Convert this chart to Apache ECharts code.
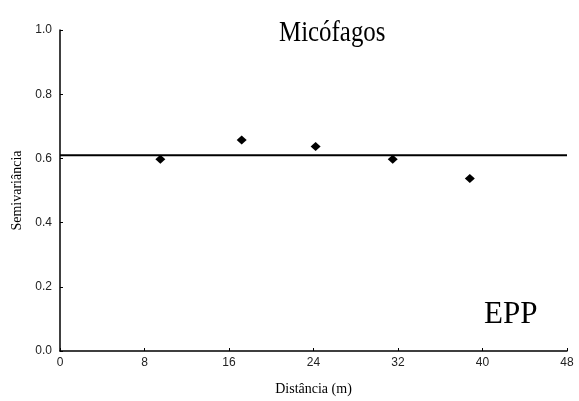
<!DOCTYPE html>
<html><head><meta charset="utf-8">
<script src="https://cdn.jsdelivr.net/npm/echarts@6/dist/echarts.min.js"></script>
<style>html,body{margin:0;padding:0;background:#fff}#c{width:579px;height:401px}</style>
</head><body><div id="c"></div>
<script>
var distances = [9.5, 17.2, 24.2, 31.5, 38.8];
var semivariances = [0.597, 0.657, 0.637, 0.597, 0.537];
var sillValue = 0.610;
var xTicks = [0, 8, 16, 24, 32, 40, 48];
var yTicks = [0.0, 0.2, 0.4, 0.6, 0.8, 1.0];
var chartTitle = 'Micófagos';
var panelLabel = 'EPP';
var xName = 'Distância (m)';
var yName = 'Semivariância';

var chart = echarts.init(document.getElementById('c'), null, {renderer: 'canvas'});
var serif = '"Liberation Serif", "DejaVu Serif", serif';
var sans = '"Liberation Sans", Arial, sans-serif';
chart.setOption({
  animation: false,
  backgroundColor: '#fff',
  grid: {left: 60, right: 12, top: 30, bottom: 45, containLabel: false},
  xAxis: {
    type: 'value', min: xTicks[0], max: xTicks[xTicks.length - 1], interval: 8,
    name: xName, nameLocation: 'middle', nameGap: 31,
    nameTextStyle: {fontFamily: serif, fontSize: 14, color: '#000'},
    axisLine: {show: true, lineStyle: {color: '#000', width: 1.5}},
    axisTick: {show: true, inside: true, length: 3, lineStyle: {color: '#000'}},
    axisLabel: {fontFamily: sans, fontSize: 12, color: '#222', margin: 6},
    splitLine: {show: false}
  },
  yAxis: {
    type: 'value', min: yTicks[0], max: yTicks[yTicks.length - 1], interval: 0.2,
    name: yName, nameLocation: 'middle', nameGap: 36,
    nameTextStyle: {fontFamily: serif, fontSize: 14, color: '#000'},
    axisLine: {show: true, lineStyle: {color: '#000', width: 1.5}},
    axisTick: {show: true, inside: true, length: 3, lineStyle: {color: '#000'}},
    axisLabel: {fontFamily: sans, fontSize: 12, color: '#222', margin: 8,
      formatter: function (v) { return v.toFixed(1); }},
    splitLine: {show: false}
  },
  series: [
    {
      type: 'scatter',
      data: distances.map(function (d, i) { return [d, semivariances[i]]; }),
      symbol: 'diamond', symbolSize: [10, 9],
      itemStyle: {color: '#000', opacity: 1}
    },
    {
      type: 'line',
      data: [[xTicks[0], sillValue], [xTicks[xTicks.length - 1], sillValue]],
      symbol: 'none',
      lineStyle: {color: '#000', width: 2}
    }
  ],
  graphic: [
    {type: 'text', x: 279, y: 18, scaleX: 0.83, scaleY: 1,
      style: {text: chartTitle, font: '30px ' + serif, fill: '#000'}},
    {type: 'text', x: 484, y: 299,
      style: {text: panelLabel, font: '31px ' + serif, fill: '#000'}}
  ]
});
</script></body></html>
